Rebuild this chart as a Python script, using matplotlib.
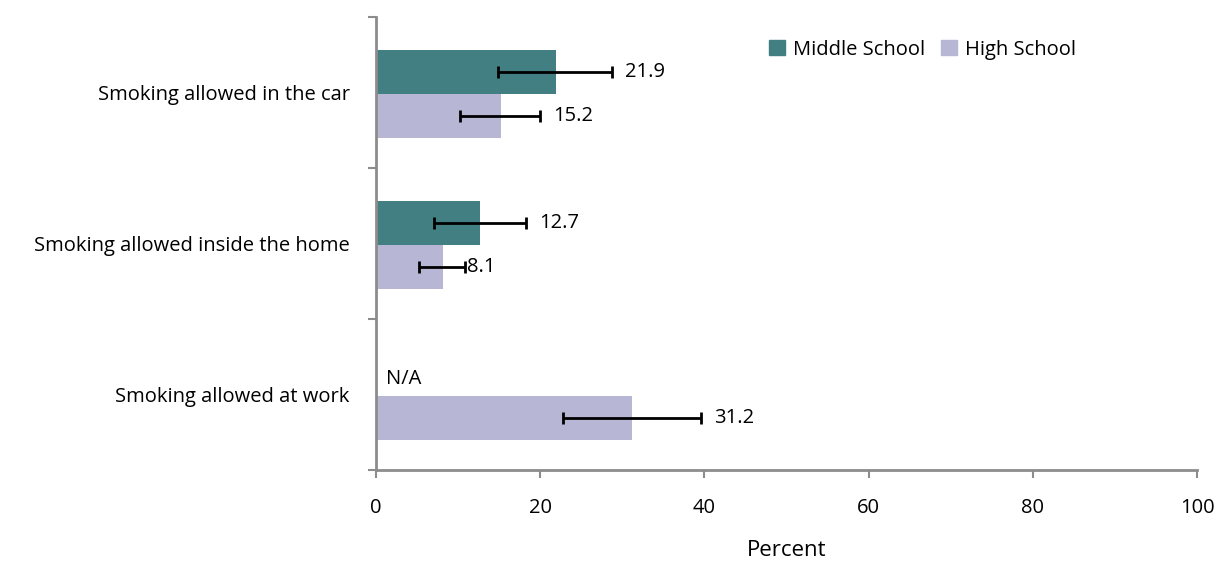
import matplotlib
matplotlib.use("Agg")
import matplotlib.pyplot as plt
from matplotlib.patches import Patch

plt.rcParams['font.family'] = ['Open Sans', 'DejaVu Sans']

categories = ["Smoking allowed at work", "Smoking allowed inside the home", "Smoking allowed in the car"]
series_names = ["Middle School", "High School"]
middle_vals = [None, 12.7, 21.9]
middle_lo = [None, 7.1, 14.8]
middle_hi = [None, 18.3, 28.7]
high_vals = [31.2, 8.1, 15.2]
high_lo = [22.8, 5.2, 10.2]
high_hi = [39.6, 10.9, 20.0]
xticks = [0, 20, 40, 60, 80, 100]
na_text = "N/A"

c_ms = "#427F83"
c_hs = "#B7B6D4"
spine_c = "#8C8C8C"
fs = 14.5

fig = plt.figure(figsize=(12.18, 5.61), dpi=100)
ax = fig.add_axes([376/1218, 1-470/561, (1197-376)/1218, (470-17)/561])

h = 0.29
for i, cat in enumerate(categories):
    c = i + 0.5
    v = middle_vals[i]
    if v is not None:
        y = c + h/2 - 0.01
        ax.barh(y, v, height=h, color=c_ms, zorder=2)
        ax.errorbar(v, y, xerr=[[v - middle_lo[i]], [middle_hi[i] - v]], fmt='none',
                    ecolor='black', elinewidth=2, capsize=4, capthick=2, zorder=3)
        ax.text(middle_hi[i] + 1.6, y, f"{v}", va='center', ha='left', fontsize=fs)
    else:
        ax.text(1.2, c + 0.1, na_text, va='center', ha='left', fontsize=fs)
    v = high_vals[i]
    y = c - h/2 - 0.01
    ax.barh(y, v, height=h, color=c_hs, zorder=2)
    ax.errorbar(v, y, xerr=[[v - high_lo[i]], [high_hi[i] - v]], fmt='none',
                ecolor='black', elinewidth=2, capsize=4, capthick=2, zorder=3)
    off = 0.2 if high_hi[i] - v < 4 else 1.6
    ax.text(high_hi[i] + off, y, f"{v}", va='center', ha='left', fontsize=fs)

ax.set_xlim(0, 100)
ax.set_ylim(0, 3)
ax.set_xticks(xticks)
ax.set_xticklabels([str(t) for t in xticks], fontsize=fs)
ax.set_yticks([0, 1, 2, 3])
ax.set_yticklabels([])
ax.set_yticks([0.5, 1.5, 2.5], minor=True)
ax.set_yticklabels(categories, minor=True, fontsize=fs)
ax.tick_params(axis='y', which='minor', length=0, pad=19)
ax.tick_params(axis='y', which='major', length=6, width=1.5, color=spine_c, direction='out')
ax.tick_params(axis='x', length=6, width=1.5, color=spine_c, direction='out', pad=14)
for s in ['top', 'right']:
    ax.spines[s].set_visible(False)
for s in ['left', 'bottom']:
    ax.spines[s].set_color(spine_c)
    ax.spines[s].set_linewidth(2)
ax.set_xlabel("Percent", fontsize=16, labelpad=16)

handles = [Patch(color=c_ms, label=series_names[0]), Patch(color=c_hs, label=series_names[1])]
ax.legend(handles=handles, loc='upper right', bbox_to_anchor=(0.875, 0.99), ncol=2, frameon=False,
          fontsize=fs, handlelength=0.8, handleheight=0.8, handletextpad=0.4, columnspacing=0.8)

fig.savefig("out.png", dpi=100)
